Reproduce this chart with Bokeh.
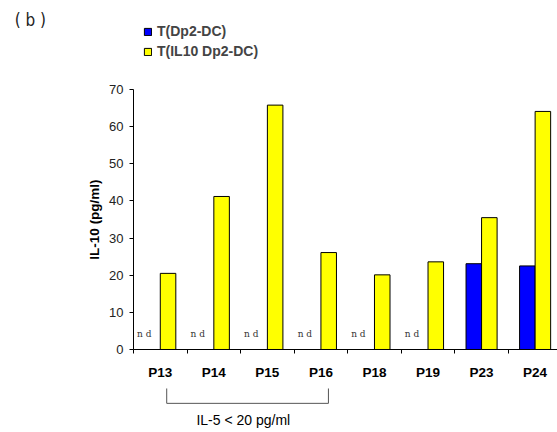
from bokeh.plotting import figure
from bokeh.models import (Range1d, FixedTicker, Legend, LegendItem, Label, Arrow,
                          ColumnDataSource)
from bokeh.core.properties import value
from bokeh.embed import file_html
from bokeh.resources import INLINE

# ---- data ----
patients = ["P13", "P14", "P15", "P16", "P18", "P19", "P23", "P24"]
t_dp2 = [None, None, None, None, None, None, 23.1, 22.5]       # None = not detected
t_il10_dp2 = [20.5, 41.2, 65.8, 26.1, 20.1, 23.6, 35.5, 64.1]
y_ticks = [0, 10, 20, 30, 40, 50, 60, 70]
series_names = ["T(Dp2-DC)", "T(IL10 Dp2-DC)"]
nd_text = "n d"
nd_level = 4.3
bracket_label = "IL-5 < 20 pg/ml"
panel_label = "( b )"

BLUE = "#0000FF"
YELLOW = "#FFFF00"
FONT = "Liberation Sans"
BW = 0.29

n = len(patients)
centers = [i + 0.5 for i in range(n)]

# frame spans the whole canvas; axes are fixed at 0 with bounds
p = figure(width=557, height=432, output_backend="svg", toolbar_location=None,
           x_range=Range1d(-2.484, 7.918), y_range=Range1d(-22.35, 93.97),
           min_border_left=0, min_border_right=0, min_border_top=0,
           min_border_bottom=0)
p.outline_line_color = None
p.grid.visible = False
p.background_fill_color = "white"
p.border_fill_color = "white"

blue_x = [c - BW / 2 for c, v in zip(centers, t_dp2) if v is not None]
blue_top = [v for v in t_dp2 if v is not None]
yel_x = [c + BW / 2 for c in centers]

rb = p.vbar(x=blue_x, top=blue_top, width=BW, bottom=0, fill_color=BLUE,
            line_color="black", line_width=1)
ry = p.vbar(x=yel_x, top=t_il10_dp2, width=BW, bottom=0, fill_color=YELLOW,
            line_color="black", line_width=1)

nd_x = [c - 0.3 for c, v in zip(centers, t_dp2) if v is None]
nd_src = ColumnDataSource(dict(x=nd_x, y=[nd_level] * len(nd_x), t=[nd_text] * len(nd_x)))
p.text(x="x", y="y", text="t", source=nd_src, text_font=value("DejaVu Serif"),
       text_font_size="9px", text_color="#333333", text_align="center",
       text_baseline="middle")

# axes
xa = p.xaxis[0]
xa.fixed_location = 0
xa.bounds = (0, n)
xa.ticker = FixedTicker(ticks=centers, minor_ticks=list(range(n)))
xa.major_label_overrides = {c: lab for c, lab in zip(centers, patients)}
xa.major_tick_out = 0
xa.major_tick_in = 0
xa.minor_tick_out = 4
xa.minor_tick_in = 0
xa.minor_tick_line_color = "black"
xa.axis_line_color = "black"
xa.major_label_standoff = 12
xa.major_label_text_font = FONT
xa.major_label_text_font_style = "bold"
xa.major_label_text_font_size = "13.5px"
xa.major_label_text_color = "black"

ya = p.yaxis[0]
ya.fixed_location = 0
ya.bounds = (0, 70)
ya.ticker = FixedTicker(ticks=y_ticks)
ya.minor_tick_line_color = None
ya.major_tick_out = 4
ya.major_tick_in = 0
ya.axis_line_color = "black"
ya.major_tick_line_color = "black"
ya.major_label_text_font = FONT
ya.major_label_text_font_size = "13px"
ya.major_label_text_color = "#222222"
ya.major_label_standoff = 6
ya.axis_label = "IL-10 (pg/ml)"
ya.axis_label_text_font = FONT
ya.axis_label_text_font_style = "bold"
ya.axis_label_text_font_size = "13.5px"
ya.axis_label_text_color = "black"
ya.axis_label_standoff = 4

# legend (screen offsets from frame's bottom-left)
legend = Legend(items=[LegendItem(label=series_names[0], renderers=[rb]),
                       LegendItem(label=series_names[1], renderers=[ry])],
                location=(143, 371), orientation="vertical",
                glyph_width=9, glyph_height=9, label_standoff=5, spacing=0,
                padding=0, margin=0, border_line_alpha=0, background_fill_alpha=0,
                label_text_font=FONT, label_text_font_style="bold",
                label_text_font_size="14px", label_height=20)
p.add_layout(legend, "center")

# bracket below x axis
bx0, bx1, by0, by1 = 0.62, 3.64, -10.5, -14.5
for (xs, ys, xe, ye) in [(bx0, by0, bx0, by1), (bx0, by1, bx1, by1), (bx1, by1, bx1, by0)]:
    p.add_layout(Arrow(x_start=xs, y_start=ys, x_end=xe, y_end=ye, end=None,
                       line_color="#555555", line_width=1))
p.add_layout(Label(x=2.05, y=-19.1, text=bracket_label, text_align="center",
                   text_baseline="middle", text_font=FONT, text_font_size="14px",
                   text_color="black"))
p.add_layout(Label(x=-2.22, y=88.6, text=panel_label, text_align="left",
                   text_baseline="middle", text_font="DejaVu Sans Condensed",
                   text_font_size="17px", text_color="#222222"))

open("out.html", "w").write(file_html(p, INLINE))
